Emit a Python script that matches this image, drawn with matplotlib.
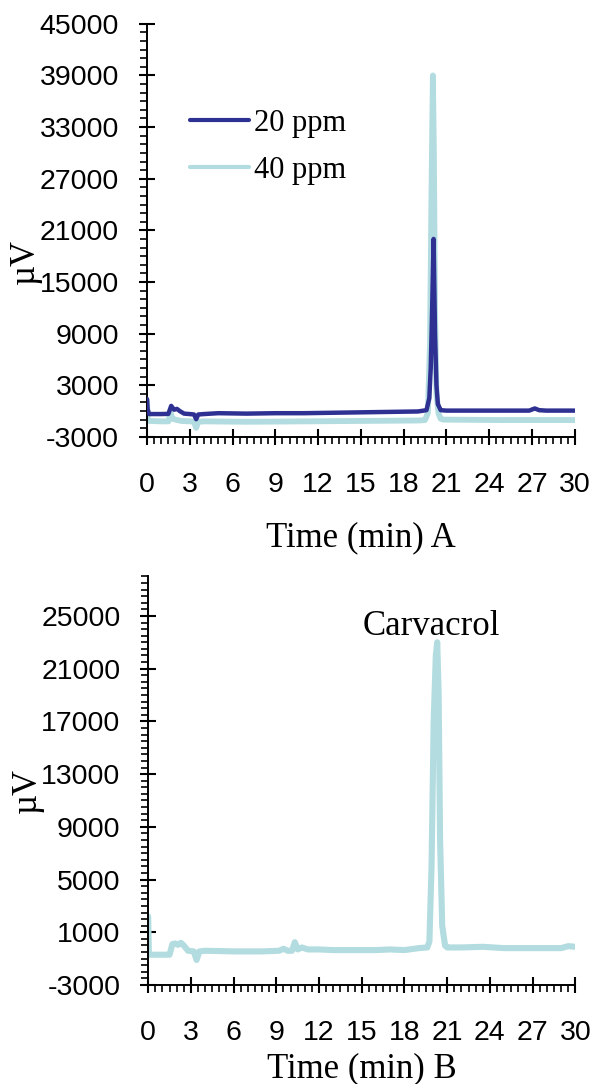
import matplotlib
matplotlib.use('Agg')
import matplotlib.pyplot as plt
from matplotlib.ticker import MultipleLocator

plt.rcParams['font.family'] = ['Liberation Sans', 'DejaVu Sans']
plt.rcParams['axes.unicode_minus'] = False

# chromatogram A, 20 ppm (time in min, signal in uV)
t_20 = [0, 0.05, 0.15, 0.5, 1.0, 1.5, 1.7, 1.9, 2.1, 2.3, 2.6, 3.0, 3.3, 3.45, 3.6, 4.0,
        5.0, 7, 9, 11, 13, 15, 17, 19, 19.6, 19.8, 19.9, 20.0, 20.1, 20.2, 20.3, 20.4,
        20.6, 21, 24, 26.8, 27.2, 27.5, 28, 30]
uv_20 = [1400, 200, -350, -350, -350, -330, 600, 150, 250, 0, -300, -350, -400, -950, -400, -350,
         -250, -300, -250, -250, -200, -150, -100, -50, 100, 1500, 5000, 12000, 20000, 9000, 3000, 800,
         100, 50, 50, 50, 300, 100, 50, 50]

# chromatogram A, 40 ppm
t_40 = [0, 0.05, 0.15, 1.0, 1.5, 1.65, 1.8, 2.0, 2.4, 3.0, 3.3, 3.45, 3.6, 4.0, 7, 11, 15,
        19, 19.5, 19.7, 19.85, 19.95, 20.05, 20.12, 20.2, 20.3, 20.45, 20.6, 20.8, 21, 25, 30]
uv_40 = [1200, -1100, -1150, -1200, -1200, -200, -900, -1000, -1150, -1200, -1250, -1950, -1250, -1200, -1250, -1200, -1150,
         -1100, -1050, -200, 8000, 25000, 39000, 30000, 12000, 2000, -300, -900, -1000, -1000, -1050, -1050]

# chromatogram B
t_b = [0, 0.05, 0.5, 1.2, 1.5, 1.7, 1.9, 2.1, 2.3, 2.5, 2.8, 3.2, 3.4, 3.6, 4.0, 6, 8,
       9.2, 9.5, 9.8, 10.1, 10.3, 10.5, 10.8, 11.2, 12, 13, 14.5, 16, 17, 18, 19, 19.6,
       19.75, 19.9, 20.05, 20.2, 20.3, 20.4, 20.5, 20.65, 20.85, 21.0, 21.3, 22, 23.5, 25, 27, 29, 29.5, 30]
uv_b = [2200, -700, -700, -700, -700, 100, 150, 50, 200, 0, -400, -450, -1100, -450, -400, -450, -450,
        -400, -250, -400, -400, 250, -300, -150, -300, -300, -350, -350, -350, -300, -350, -200, -150,
        300, 6000, 17000, 22000, 23000, 19000, 8000, 1500, 0, -150, -150, -150, -100, -200, -200, -200, -50, -100]

x_ticks = [0, 3, 6, 9, 12, 15, 18, 21, 24, 27, 30]
y_ticks_a = [-3000, 3000, 9000, 15000, 21000, 27000, 33000, 39000, 45000]
y_ticks_b = [-3000, 1000, 5000, 9000, 13000, 17000, 21000, 25000]

dark = '#2E3192'
light = '#B2DCDF'
serif = ['Liberation Serif', 'DejaVu Serif']

fig = plt.figure(figsize=(5.95, 10.84), dpi=100)
ax1 = fig.add_axes([0.247, 0.597, 0.719, 0.381])
ax2 = fig.add_axes([0.249, 0.0913, 0.718, 0.377])

line_kw = dict(solid_joinstyle='round', solid_capstyle='round')
ax1.plot(t_20, uv_20, color=dark, lw=3.2, label='20 ppm', zorder=3, **line_kw)
ax1.plot(t_40, uv_40, color=light, lw=4.2, label='40 ppm', zorder=2, **line_kw)
ax2.plot(t_b, uv_b, color=light, lw=4.4, **line_kw)

ax1.set_ylim(-3000, 45000)
ax1.set_yticks(y_ticks_a)
ax1.yaxis.set_minor_locator(MultipleLocator(1000))
ax2.set_ylim(-3000, 28000)
ax2.set_yticks(y_ticks_b)
ax2.yaxis.set_minor_locator(MultipleLocator(500))

for ax in (ax1, ax2):
    ax.set_xlim(0, 30)
    ax.set_xticks(x_ticks)
    ax.xaxis.set_minor_locator(MultipleLocator(0.5))
    for s in ('top', 'right'):
        ax.spines[s].set_visible(False)
    for s in ('left', 'bottom'):
        ax.spines[s].set_linewidth(1.4)
    ax.tick_params(which='major', direction='inout', length=12, width=1.5, labelsize=20.5)
    ax.tick_params(which='minor', direction='out', length=5, width=1.2)
    ax.tick_params(axis='x', which='major', pad=19)
    ax.tick_params(axis='y', which='major', pad=14)

ax1.set_xlabel('Time (min) A', family=serif, fontsize=25, labelpad=17)
ax2.set_xlabel('Time (min) B', family=serif, fontsize=25, labelpad=5)
ax1.set_ylabel('µV', family=serif, fontsize=25)
ax2.set_ylabel('µV', family=serif, fontsize=25)
ax1.yaxis.set_label_coords(-0.245, 0.424)
ax2.yaxis.set_label_coords(-0.245, 0.477)

leg = ax1.legend(loc='upper left', bbox_to_anchor=(0.1, 0.795), frameon=False,
                 prop={'family': serif, 'size': 22}, handlelength=1.95,
                 handletextpad=0.15, labelspacing=0.6, borderpad=0, borderaxespad=0)
for h in leg.get_lines():
    h.set_linewidth(3)

ax2.text(19.9, 24200, 'Carvacrol', family=serif, fontsize=25, ha='center', va='center')

fig.savefig('out.png', dpi=100)
